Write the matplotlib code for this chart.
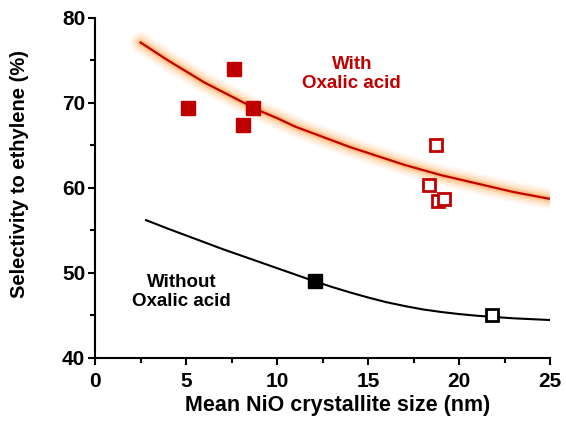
import matplotlib
matplotlib.use('Agg')
import matplotlib.pyplot as plt

plt.rcParams['font.family'] = ['Liberation Sans', 'DejaVu Sans']
plt.rcParams['font.weight'] = 'bold'

RED = "#C00000"

# data points
with_filled_x = [5.1, 7.65, 8.65, 8.15]
with_filled_y = [69.4, 74.0, 69.4, 67.4]
with_open_x = [18.75, 18.35, 18.85, 19.15]
with_open_y = [65.1, 60.3, 58.5, 58.7]
without_filled_x = [12.1]
without_filled_y = [49.0]
without_open_x = [21.8]
without_open_y = [45.0]

# trend curves
red_curve_x = [2.5, 3, 4, 5, 6, 7, 8, 9, 10, 11, 12, 13, 14, 15, 16, 17, 18, 19, 20, 21, 22, 23, 24, 25]
red_curve_y = [77.1, 76.4, 75.0, 73.7, 72.4, 71.3, 70.2, 69.1, 68.2, 67.2, 66.4, 65.6, 64.8,
               64.1, 63.4, 62.7, 62.1, 61.5, 61.0, 60.5, 60.0, 59.5, 59.1, 58.7]
blk_curve_x = [2.8, 4, 5, 6, 7, 8, 9, 10, 11, 12, 13, 14, 15, 16, 17, 18, 19, 20, 21, 22, 23, 24, 25]
blk_curve_y = [56.2, 55.2, 54.4, 53.6, 52.8, 52.05, 51.3, 50.55, 49.8, 49.05, 48.35, 47.7, 47.1,
               46.55, 46.1, 45.7, 45.4, 45.15, 44.95, 44.8, 44.65, 44.55, 44.45]

fig = plt.figure(figsize=(5.66, 4.25), dpi=100)
ax = fig.add_axes([0.168, 0.158, 0.804, 0.80])

# orange glow around red curve
for lw, a in [(15, 0.07), (12, 0.09), (9, 0.13), (6, 0.2), (4, 0.3)]:
    ax.plot(red_curve_x, red_curve_y, color="#FF9933", lw=lw, alpha=a,
            solid_capstyle='round', solid_joinstyle='round', zorder=1)
ax.plot(red_curve_x, red_curve_y, color=RED, lw=1.6, zorder=2)
ax.plot(blk_curve_x, blk_curve_y, color="black", lw=1.5, zorder=2)

ax.plot(with_filled_x, with_filled_y, 's', ms=9.5, color=RED, mec=RED, ls='none', zorder=3)
ax.plot(with_open_x, with_open_y, 's', ms=8.5, mfc='white', mec=RED, mew=2, ls='none', zorder=3)
ax.plot(without_filled_x, without_filled_y, 's', ms=9.5, color='black', ls='none', zorder=3)
ax.plot(without_open_x, without_open_y, 's', ms=8.5, mfc='white', mec='black', mew=2, ls='none', zorder=3)

ax.text(14.1, 73.4, "With\nOxalic acid", color=RED, fontsize=13.5, fontweight='bold',
        ha='center', va='center', linespacing=1.15)
ax.text(4.75, 47.8, "Without\nOxalic acid", color='black', fontsize=13.5, fontweight='bold',
        ha='center', va='center', linespacing=1.15)

ax.set_xlim(0, 25)
ax.set_ylim(40, 80)
ax.set_xticks([0, 5, 10, 15, 20, 25])
ax.set_xticks([2.5, 7.5, 12.5, 17.5, 22.5], minor=True)
ax.set_yticks([40, 50, 60, 70, 80])
ax.set_yticks([45, 55, 65, 75], minor=True)
ax.tick_params(which='major', direction='out', length=5, width=1.5, labelsize=15)
ax.tick_params(which='minor', direction='out', length=3.5, width=1.5)
ax.tick_params(axis='x', which='major', pad=5)
ax.tick_params(axis='y', which='major', pad=2)
for lab in ax.get_xticklabels() + ax.get_yticklabels():
    lab.set_fontweight('bold')
for s in ['top', 'right']:
    ax.spines[s].set_visible(False)
for s in ['left', 'bottom']:
    ax.spines[s].set_linewidth(1.5)

ax.set_xlabel("Mean NiO crystallite size (nm)", fontsize=15.5, fontweight='bold')
ax.set_ylabel("Selectivity to ethylene (%)", fontsize=14.5, fontweight='bold')
ax.xaxis.set_label_coords(0.534, -0.11)
ax.yaxis.set_label_coords(-0.145, 0.541)

fig.savefig("out.png", dpi=100)
